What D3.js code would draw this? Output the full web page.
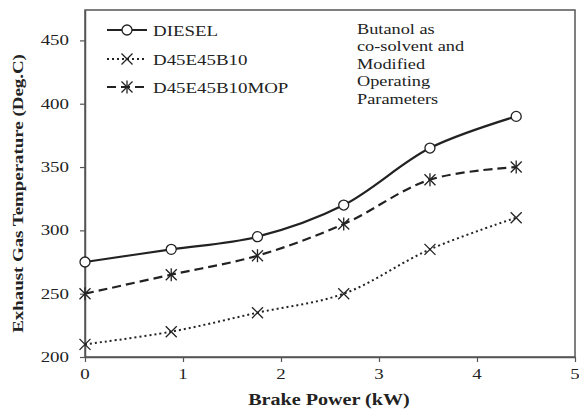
<!DOCTYPE html>
<html><head><meta charset="utf-8">
<script src="https://cdn.jsdelivr.net/npm/d3@7"></script>
<style>body{margin:0;background:#fff}svg{display:block}text{font-family:"Liberation Serif","Times New Roman",serif;fill:#222}</style>
</head><body><svg id="c" width="579" height="413"></svg>
<script>
const power = [0, 0.88, 1.76, 2.64, 3.52, 4.4];
const diesel = [275, 285, 295, 320, 365, 390];
const d45e45b10 = [210, 220, 235, 250, 285, 310];
const d45e45b10mop = [250, 265, 280, 305, 340, 350];
const xTicks = [0, 1, 2, 3, 4, 5];
const yTicks = [200, 250, 300, 350, 400, 450];
const seriesNames = ["DIESEL", "D45E45B10", "D45E45B10MOP"];
const noteLines = ["Butanol as", "co-solvent and", "Modified", "Operating", "Parameters"];

const svg = d3.select("#c");
const L = 85, R = 575, T = 10, B = 357;
const x = d3.scaleLinear().domain([0, 5]).range([L, R]);
const y = d3.scaleLinear().domain([200, 474]).range([B, T]);
const SX = 1.22;

function stext(px, py, t, size, anchor, weight, rot) {
  const g = svg.append("g").attr("transform", `translate(${px},${py})` + (rot ? ` rotate(${rot})` : "") + ` scale(${SX},1)`);
  g.append("text").attr("text-anchor", anchor || "start").style("font-size", size + "px")
    .style("font-weight", weight || "normal").text(t);
  return g;
}

// frame
svg.append("rect").attr("x", L).attr("y", T).attr("width", R - L).attr("height", B - T)
  .attr("fill", "none").attr("stroke", "#555").attr("stroke-width", 1.5);

const xa = svg.append("g").attr("transform", `translate(0,${B})`)
  .call(d3.axisBottom(x).tickValues(xTicks).tickFormat("").tickSize(5).tickSizeOuter(0));
const ya = svg.append("g").attr("transform", `translate(${L},0)`)
  .call(d3.axisLeft(y).tickValues(yTicks).tickFormat("").tickSize(5).tickSizeOuter(0));
[xa, ya].forEach(g => {
  g.select(".domain").attr("stroke", "#555").attr("stroke-width", 1.5);
  g.selectAll(".tick line").attr("stroke", "#555").attr("stroke-width", 1.2);
});
xTicks.forEach(v => stext(x(v), 379, d3.format("d")(v), 15.5, "middle").select("text").attr("fill", "#333"));
yTicks.forEach(v => stext(L - 16, y(v) + 5, d3.format("d")(v), 15.5, "end").select("text").attr("fill", "#333"));

stext(329, 405, "Brake Power (kW)", 16.5, "middle", "bold");
stext(23, (T + B) / 2 + 10, "Exhaust Gas Temperature (Deg.C)", 15.5, "middle", "bold", -90);

const line = d3.line().x(d => x(d[0])).y(d => y(d[1])).curve(d3.curveCatmullRom.alpha(0.5));
const styles = [
  {vals: diesel, dash: null, w: 2.2, marker: "circle"},
  {vals: d45e45b10, dash: "2,3", w: 2, marker: "x"},
  {vals: d45e45b10mop, dash: "9,5", w: 2.2, marker: "star"}
];
function drawMarker(g, type, cx, cy) {
  if (type === "circle") {
    g.append("circle").attr("cx", cx).attr("cy", cy).attr("r", 5)
      .attr("fill", "#fff").attr("stroke", "#222").attr("stroke-width", 1.3);
  } else {
    const s = 5.5;
    g.append("path").attr("d", `M${cx - s},${cy - s}L${cx + s},${cy + s}M${cx - s},${cy + s}L${cx + s},${cy - s}`)
      .attr("stroke", "#222").attr("stroke-width", 1.3).attr("fill", "none");
    if (type === "star") {
      g.append("path").attr("d", `M${cx},${cy - s - 1}L${cx},${cy + s + 1}`)
        .attr("stroke", "#222").attr("stroke-width", 1.3);
    }
  }
}
styles.forEach(s => {
  const pts = power.map((p, i) => [p, s.vals[i]]);
  svg.append("path").attr("d", line(pts)).attr("fill", "none").attr("stroke", "#222")
    .attr("stroke-width", s.w).attr("stroke-dasharray", s.dash);
  const g = svg.append("g");
  pts.forEach(p => drawMarker(g, s.marker, x(p[0]), y(p[1])));
});

// legend
const legY = [30, 59, 87];
styles.forEach((s, i) => {
  const g = svg.append("g");
  g.append("line").attr("x1", 107).attr("x2", 147).attr("y1", legY[i]).attr("y2", legY[i])
    .attr("stroke", "#222").attr("stroke-width", s.w).attr("stroke-dasharray", s.dash);
  drawMarker(g, s.marker, 127, legY[i]);
  stext(153, legY[i] + 5.5, seriesNames[i], 15.5, "start");
});

// note
const ny = [34, 51, 69, 86, 104];
noteLines.forEach((t, i) => stext(357, ny[i], t, 15, "start"));
</script></body></html>
